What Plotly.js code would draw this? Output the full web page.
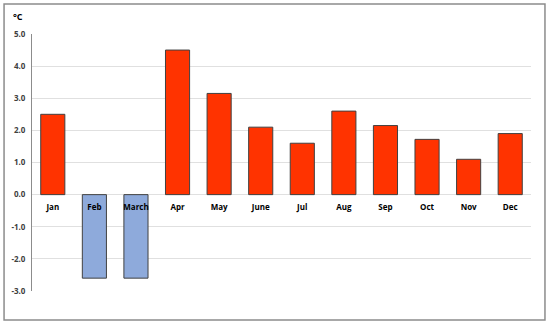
<!DOCTYPE html>
<html><head><meta charset="utf-8">
<script src="https://cdn.plot.ly/plotly-3.0.1.min.js"></script>
<style>html,body{margin:0;padding:0;background:#fff}</style>
</head><body><div id="chart" style="width:550px;height:327px"></div>
<script>
const months = ["Jan","Feb","March","Apr","May","June","Jul","Aug","Sep","Oct","Nov","Dec"];
const anomaly = [2.5,-2.6,-2.6,4.5,3.15,2.1,1.6,2.6,2.15,1.72,1.1,1.9];
const yTickVals = [-3,-2,-1,0,1,2,3,4,5];
const yTickText = ["-3.0","-2.0","-1.0","0.0","1.0","2.0","3.0","4.0","5.0"];
const unitLabel = "°C";

const colors = anomaly.map(v => v >= 0 ? "#ff3300" : "#8eaadb");

const data = [{
  type: "bar",
  x: months,
  y: anomaly,
  marker: {color: colors, line: {color: "#404040", width: 1}},
  hoverinfo: "x+y"
}];

const layout = {
  width: 550, height: 327,
  margin: {l: 32, r: 19, t: 34, b: 36},
  paper_bgcolor: "#fff", plot_bgcolor: "#fff",
  showlegend: false,
  bargap: 0.42,
  font: {family: "Open Sans, sans-serif", size: 8, color: "#404040"},
  xaxis: {
    type: "category",
    anchor: "free",
    position: 0.375,
    showgrid: false,
    showline: false,
    zeroline: false,
    ticks: "",
    ticklabelstandoff: 6,
    tickfont: {family: "Open Sans, sans-serif", size: 8, color: "#000", weight: "bold"},
    fixedrange: true
  },
  yaxis: {
    range: [-3, 5],
    tickvals: yTickVals,
    ticktext: yTickText,
    showgrid: true,
    gridcolor: "#e0e0e0",
    gridwidth: 1,
    zeroline: true,
    zerolinecolor: "#e0e0e0",
    zerolinewidth: 1,
    showline: true,
    linecolor: "#8c8c8c",
    linewidth: 1,
    ticks: "",
    ticklabelstandoff: 4,
    tickfont: {family: "Open Sans, sans-serif", size: 8, color: "#404040", weight: "bold"},
    fixedrange: true
  },
  annotations: [{
    text: unitLabel,
    xref: "paper", yref: "paper",
    x: -0.028, y: 1.07,
    xanchor: "center", yanchor: "middle",
    showarrow: false,
    font: {family: "Open Sans, sans-serif", size: 9, color: "#000", weight: "bold"}
  }],
  shapes: [{
    type: "rect", xref: "paper", yref: "paper",
    x0: -0.056, x1: 1.028, y0: -0.113, y1: 1.117,
    line: {color: "#8c8c8c", width: 1.5},
    fillcolor: "rgba(0,0,0,0)",
    layer: "below"
  }]
};

Plotly.newPlot("chart", data, layout, {displayModeBar: false, staticPlot: true});
</script></body></html>
